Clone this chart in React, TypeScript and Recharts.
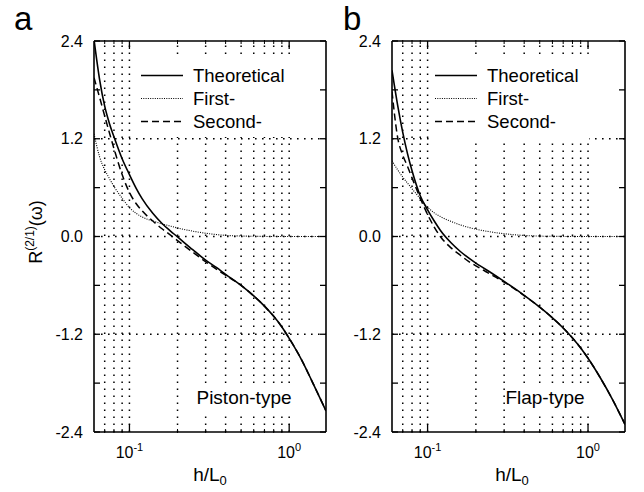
import React from 'react';
import { LineChart, Line, XAxis, YAxis, ReferenceLine, Legend } from 'recharts';

// ---------- data ----------
const hValues = [0.06, 0.065, 0.07, 0.075, 0.08, 0.09, 0.1, 0.11, 0.12, 0.14, 0.16, 0.18, 0.2, 0.25, 0.3, 0.35, 0.4, 0.5, 0.6, 0.7, 0.8, 0.9, 1.0, 1.2, 1.4, 1.7];

const theoA = [2.42, 1.93, 1.60, 1.385, 1.225, 0.955, 0.76, 0.595, 0.465, 0.285, 0.16, 0.07, -0.005, -0.165, -0.29, -0.38, -0.465, -0.60, -0.73, -0.855, -0.98, -1.11, -1.25, -1.52, -1.79, -2.14];
const firstA = [1.26, 0.98, 0.82, 0.71, 0.615, 0.47, 0.355, 0.285, 0.24, 0.19, 0.155, 0.128, 0.105, 0.065, 0.04, 0.024, 0.014, 0.006, 0.003, 0.001, 0, 0, 0, 0, 0, 0];
const secondA = [1.95, 1.71, 1.48, 1.27, 1.08, 0.76, 0.54, 0.405, 0.315, 0.19, 0.095, 0.02, -0.05, -0.195, -0.31, -0.40, -0.475, -0.60, -0.73, -0.855, -0.98, -1.11, -1.25, -1.52, -1.79, -2.14];

const theoB = [2.04, 1.617, 1.279, 1.015, 0.808, 0.501, 0.327, 0.19, 0.077, -0.077, -0.184, -0.263, -0.327, -0.448, -0.551, -0.641, -0.723, -0.868, -0.999, -1.123, -1.245, -1.368, -1.494, -1.743, -1.977, -2.306];
const firstB = [0.93, 0.82, 0.73, 0.655, 0.585, 0.465, 0.36, 0.29, 0.245, 0.185, 0.142, 0.112, 0.09, 0.055, 0.034, 0.021, 0.013, 0.005, 0.002, 0.001, 0, 0, 0, 0, 0, 0];
const secondB = [1.78, 1.22, 1.0, 0.86, 0.72, 0.47, 0.27, 0.115, 0.0, -0.14, -0.23, -0.305, -0.36, -0.47, -0.56, -0.645, -0.725, -0.868, -0.999, -1.123, -1.245, -1.368, -1.494, -1.743, -1.977, -2.306];

const seriesNames = ['Theoretical', 'First-', 'Second-'];
const xMajorTicks = [0.1, 1];
const xMinorTicks = [0.07, 0.08, 0.09, 0.2, 0.3, 0.4, 0.5, 0.6, 0.7, 0.8, 0.9];
const xGrid = [0.07, 0.08, 0.09, 0.1, 0.2, 0.3, 0.4, 0.5, 0.6, 0.7, 0.8, 0.9, 1.0];
const yTicks = [-2.4, -1.8, -1.2, -0.6, 0, 0.6, 1.2, 1.8, 2.4];
const yMajorTicks = [-2.4, -1.2, 0, 1.2, 2.4];
const yGrid = [-1.2, 0, 1.2];
const X_DOMAIN = [0.06, 1.7];
const Y_DOMAIN = [-2.4, 2.4];

const buildRows = (t: number[], f: number[], s: number[]) =>
  hValues.map((h, i) => ({ h, theo: t[i], first: f[i], second: s[i] }));

const dataA = buildRows(theoA, firstA, secondA);
const dataB = buildRows(theoB, firstB, secondB);

// ---------- style ----------
const FONT = '"Liberation Sans", Arial, Helvetica, sans-serif';
const dashMap: Record<string, string | undefined> = {
  theo: undefined,
  first: '1 1.3',
  second: '7 4',
};
const widthMap: Record<string, number> = { theo: 1.6, first: 1.1, second: 1.5 };

const XTick = (props: any) => {
  const { x, y, payload } = props;
  const v = payload.value;
  if (!xMajorTicks.some((m) => Math.abs(m - v) < 1e-9)) return null;
  const exp = Math.round(Math.log10(v));
  return (
    <text x={x} y={y} textAnchor="middle" fontFamily={FONT} fontSize={16} fill="#000" dy="0.71em">
      10
      <tspan dy={-7} fontSize={11}>{String(exp)}</tspan>
    </text>
  );
};

const yFmt = (v: number) => (yMajorTicks.some((m) => Math.abs(m - v) < 1e-9) ? v.toFixed(1) : '');

const makeLegend = (boxW: number, boxH: number, padL: number) => (props: any) => {
  const payload = [...(props.payload || [])].sort(
    (a: any, b: any) => seriesNames.indexOf(a.value) - seriesNames.indexOf(b.value)
  );
  return (
    <div style={{ background: '#fff', width: boxW, height: boxH, paddingTop: 7, boxSizing: 'border-box' }}>
      {payload.map((e: any) => (
        <div key={e.value} style={{ display: 'flex', alignItems: 'center', height: 23 }}>
          <svg width={42} height={23} style={{ marginLeft: padL, flex: 'none' }}>
            <line x1={0} x2={42} y1={11.5} y2={11.5} stroke="#000"
              strokeWidth={widthMap[e.dataKey] || 1.5}
              strokeDasharray={dashMap[e.dataKey]} />
          </svg>
          <span style={{ marginLeft: 10, fontSize: 18.5, fontFamily: FONT, color: '#000', lineHeight: '23px' }}>{e.value}</span>
        </div>
      ))}
    </div>
  );
};

type PanelProps = {
  data: any[];
  width: number;
  margin: { top: number; right: number; bottom: number; left: number };
  legendPos: { left: number; top: number; w: number; h: number; padL: number };
};

const Panel = ({ data, width, margin, legendPos }: PanelProps) => (
  <LineChart width={width} height={492} data={data} margin={margin}>
    {/* bottom axes */}
    <XAxis xAxisId={0} dataKey="h" type="number" scale="log" domain={X_DOMAIN} allowDataOverflow
      ticks={xMajorTicks} height={1} tickSize={-8} tickMargin={23} tick={<XTick />}
      axisLine={{ stroke: '#000', strokeWidth: 1.6 }} tickLine={{ stroke: '#000', strokeWidth: 1.3 }} interval={0} />
    <XAxis xAxisId="bm" dataKey="h" type="number" scale="log" domain={X_DOMAIN} allowDataOverflow
      ticks={xMinorTicks} height={1} tickSize={-4} tickFormatter={() => ''}
      axisLine={false} tickLine={{ stroke: '#000', strokeWidth: 1 }} interval={0} />
    {/* top axes */}
    <XAxis xAxisId="t" orientation="top" dataKey="h" type="number" scale="log" domain={X_DOMAIN} allowDataOverflow
      ticks={xMajorTicks} height={1} tickSize={-8} tickFormatter={() => ''}
      axisLine={{ stroke: '#000', strokeWidth: 1.6 }} tickLine={{ stroke: '#000', strokeWidth: 1.3 }} interval={0} />
    <XAxis xAxisId="tm" orientation="top" dataKey="h" type="number" scale="log" domain={X_DOMAIN} allowDataOverflow
      ticks={xMinorTicks} height={1} tickSize={-4} tickFormatter={() => ''}
      axisLine={false} tickLine={{ stroke: '#000', strokeWidth: 1 }} interval={0} />
    {/* y axes */}
    <YAxis yAxisId={0} type="number" domain={Y_DOMAIN} allowDataOverflow ticks={yTicks} width={1}
      tickSize={-6} tickMargin={17} tickFormatter={yFmt} interval={0}
      tick={{ fontFamily: FONT, fontSize: 16, fill: '#000' }}
      axisLine={{ stroke: '#000', strokeWidth: 1.6 }} tickLine={{ stroke: '#000', strokeWidth: 1.3 }} />
    <YAxis yAxisId="r" orientation="right" type="number" domain={Y_DOMAIN} allowDataOverflow ticks={yTicks} width={1}
      tickSize={-6} tickFormatter={() => ''} interval={0}
      axisLine={{ stroke: '#000', strokeWidth: 1.6 }} tickLine={{ stroke: '#000', strokeWidth: 1.3 }} />

    {xGrid.map((v) => (
      <ReferenceLine key={'gx' + v} x={v} stroke="#000" strokeWidth={1.5} strokeDasharray="1.6 5.4" />
    ))}
    {yGrid.map((v) => (
      <ReferenceLine key={'gy' + v} y={v} stroke="#000" strokeWidth={1.5} strokeDasharray="1.6 5.4" />
    ))}

    <Line dataKey="theo" name={seriesNames[0]} type="monotone" stroke="#000" strokeWidth={widthMap.theo}
      dot={false} activeDot={false} isAnimationActive={false} />
    <Line dataKey="first" name={seriesNames[1]} type="monotone" stroke="#000" strokeWidth={widthMap.first}
      strokeDasharray={dashMap.first} dot={false} activeDot={false} isAnimationActive={false} />
    <Line dataKey="second" name={seriesNames[2]} type="monotone" stroke="#000" strokeWidth={widthMap.second}
      strokeDasharray={dashMap.second} dot={false} activeDot={false} isAnimationActive={false} />

    <Legend layout="vertical" align="center" verticalAlign="middle"
      wrapperStyle={{ left: legendPos.left, top: legendPos.top, width: legendPos.w, height: legendPos.h }}
      content={makeLegend(legendPos.w, legendPos.h, legendPos.padL)} />
  </LineChart>
);

export default function App() {
  return (
    <div style={{ position: 'absolute', left: 0, top: 0, width: 644, height: 492, background: '#fff', overflow: 'hidden' }}>
      <div style={{ position: 'absolute', left: 0, top: 0 }}>
        <Panel data={dataA} width={340} margin={{ top: 39, right: 13, bottom: 58, left: 93 }}
          legendPos={{ left: 134, top: 57, w: 158, h: 80, padL: 7 }} />
      </div>
      <div style={{ position: 'absolute', left: 330, top: 0 }}>
        <Panel data={dataB} width={314} margin={{ top: 39, right: 18, bottom: 58, left: 61 }}
          legendPos={{ left: 101, top: 57, w: 158, h: 85, padL: 4 }} />
      </div>
      <svg width={644} height={492} style={{ position: 'absolute', left: 0, top: 0, pointerEvents: 'none' }}>
        <g fontFamily={FONT} fill="#000">
          <text x={14} y={30} fontSize={33}>a</text>
          <text x={343} y={30} fontSize={33}>b</text>
          <text transform="translate(42,232) rotate(-90)" textAnchor="middle" fontSize={18}>
            R<tspan dy={-8} fontSize={12}>(2/1)</tspan><tspan dy={8}>(ω)</tspan>
          </text>
          <rect x={190} y={383} width={105} height={30} fill="#fff" />
          <text x={244} y={404} textAnchor="middle" fontSize={19}>Piston-type</text>
          <rect x={507} y={384} width={83} height={28} fill="#fff" />
          <text x={545} y={404} textAnchor="middle" fontSize={19}>Flap-type</text>
          <text x={210} y={481} textAnchor="middle" fontSize={19}>
            h/L<tspan dy={4} fontSize={13}>0</tspan>
          </text>
          <text x={512} y={481} textAnchor="middle" fontSize={19}>
            h/L<tspan dy={4} fontSize={13}>0</tspan>
          </text>
        </g>
      </svg>
    </div>
  );
}
